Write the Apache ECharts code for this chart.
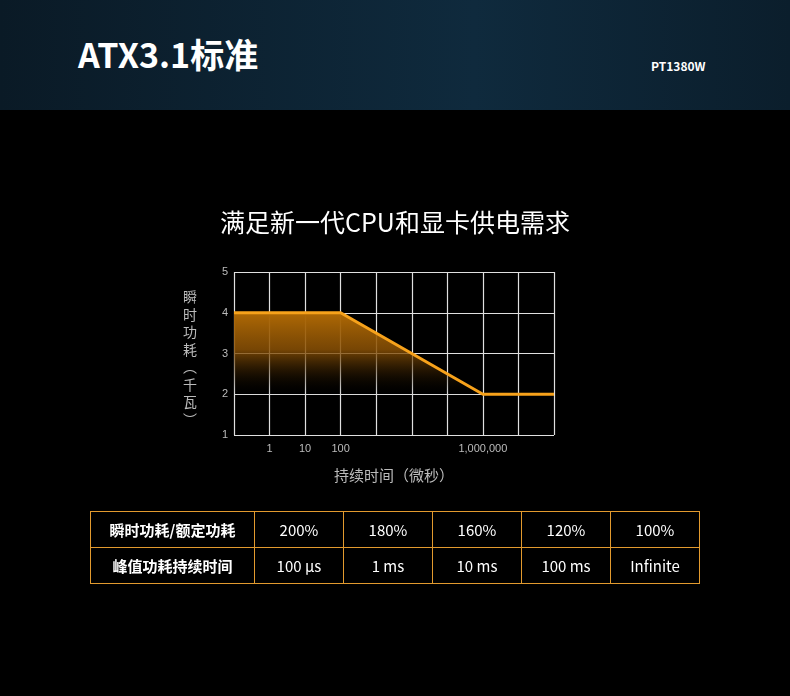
<!DOCTYPE html>
<html><head><meta charset="utf-8">
<script src="https://cdn.jsdelivr.net/npm/echarts@6/dist/echarts.min.js"></script>
<style>
html,body{margin:0;padding:0;background:#000;width:790px;height:696px;overflow:hidden;font-family:"Noto Sans CJK SC","Noto Sans",sans-serif;}
#hdr{position:absolute;left:0;top:0;width:790px;height:110px;background:linear-gradient(90deg,#0a1a26,#0f2a3d 60%,#0b1e2c);}
#t1{position:absolute;left:78px;top:29px;color:#fff;font-size:34px;font-weight:bold;}
#t2{position:absolute;left:651px;top:57px;color:#fff;font-size:12px;font-weight:bold;}
#chart{position:absolute;left:0;top:0;width:790px;height:696px;}
table{position:absolute;left:90px;top:511px;border-collapse:collapse;color:#fff;font-size:15px;}
td{border:1px solid #e29a2e;height:35px;text-align:center;width:88px;padding:0;}
td.h{width:163px;font-weight:bold;}
</style></head><body>
<div id="hdr"><div id="t1">ATX3.1标准</div><div id="t2">PT1380W</div></div>
<div id="chart"></div>
<table id="tb"></table>
<script>
const xTickLabels = {1:'1',2:'10',3:'100',7:'1,000,000'};
const powerX = [0,3,7,9];
const powerY = [4,4,2,2];
const rowHeads = ['瞬时功耗/额定功耗','峰值功耗持续时间'];
const ratioRow = ['200%','180%','160%','120%','100%'];
const durationRow = ['100 μs','1 ms','10 ms','100 ms','Infinite'];

const tb=document.getElementById('tb');
[[rowHeads[0],ratioRow],[rowHeads[1],durationRow]].forEach(([h,r])=>{
  const tr=document.createElement('tr');
  tr.innerHTML='<td class="h">'+h+'</td>'+r.map(v=>'<td>'+v+'</td>').join('');
  tb.appendChild(tr);
});

const c=echarts.init(document.getElementById('chart'));
c.setOption({
  animation:false,
  title:{text:'满足新一代CPU和显卡供电需求',left:'center',top:205,textStyle:{color:'#fff',fontSize:25,fontWeight:'normal',fontFamily:'Noto Sans CJK SC'}},
  grid:{left:234,right:236,top:272,bottom:261},
  xAxis:{type:'value',min:0,max:9,interval:1,
    name:'持续时间（微秒）',nameLocation:'middle',nameGap:33,nameTextStyle:{color:'#bbb',fontSize:15,fontFamily:'Noto Sans CJK SC'},
    axisLine:{show:false},axisTick:{show:false},
    splitLine:{show:true,lineStyle:{color:'#e0e0e0',width:1.2}},
    axisLabel:{color:'#bbb',fontSize:11,formatter:v=>xTickLabels[v]||''}},
  yAxis:{type:'value',min:1,max:5,interval:1,
    axisLine:{show:false},axisTick:{show:false},
    splitLine:{show:true,lineStyle:{color:'#e0e0e0',width:1.2}},
    axisLabel:{color:'#bbb',fontSize:11,margin:6}},
  graphic:[{type:'text',left:183,top:288,style:{text:'瞬\n时\n功\n耗\n︵\n千\n瓦\n︶',fill:'#bbb',font:'14px "Noto Sans CJK SC"',lineHeight:17.5}}],
  series:[{type:'line',data:powerX.map((x,i)=>[x,powerY[i]]),symbol:'none',
    lineStyle:{color:'#f7a21b',width:3},
    areaStyle:{origin:'start',opacity:1,color:new echarts.graphic.LinearGradient(0,0,0,1,[
      {offset:0,color:'rgba(175,105,5,1)'},{offset:0.3,color:'rgba(140,82,5,0.85)'},{offset:0.68,color:'rgba(0,0,0,0)'},{offset:1,color:'rgba(0,0,0,0)'}])}}]
});
</script></body></html>
